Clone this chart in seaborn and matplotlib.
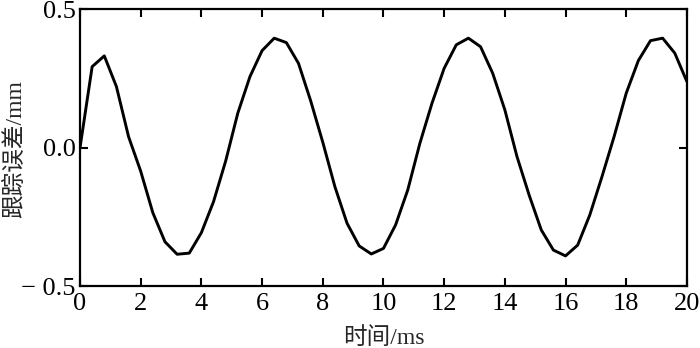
import numpy as np
import pandas as pd
import matplotlib.pyplot as plt
import seaborn as sns

time_ms = [0.0, 0.4, 0.8, 1.2, 1.6, 2.0, 2.4, 2.8, 3.2, 3.6,
           4.0, 4.4, 4.8, 5.2, 5.6, 6.0, 6.4, 6.8, 7.2, 7.6,
           8.0, 8.4, 8.8, 9.2, 9.6, 10.0, 10.4, 10.8, 11.2, 11.6,
           12.0, 12.4, 12.8, 13.2, 13.6, 14.0, 14.4, 14.8, 15.2, 15.6,
           16.0, 16.4, 16.8, 17.2, 17.6, 18.0, 18.4, 18.8, 19.2, 19.6, 20.0]
error_mm = [0.0, 0.293, 0.332, 0.221, 0.040, -0.085, -0.235, -0.340, -0.385, -0.381,
            -0.307, -0.195, -0.048, 0.125, 0.257, 0.351, 0.396, 0.380, 0.305, 0.170,
            0.020, -0.141, -0.273, -0.355, -0.384, -0.364, -0.279, -0.153, 0.016, 0.161,
            0.287, 0.372, 0.396, 0.365, 0.269, 0.137, -0.032, -0.171, -0.297, -0.370,
            -0.391, -0.352, -0.243, -0.105, 0.040, 0.197, 0.315, 0.387, 0.396, 0.342, 0.239]

x_ticks = [0, 2, 4, 6, 8, 10, 12, 14, 16, 18, 20]
y_ticks = [-0.5, 0.0, 0.5]
y_tick_labels = ['\u2212 0.5', '0.0', '0.5']

df = pd.DataFrame({'t': time_ms, 'e': error_mm})

sns.set_style('ticks')
plt.rcParams['font.family'] = ['Liberation Serif', 'Noto Sans CJK SC']
plt.rcParams['axes.unicode_minus'] = True

fig = plt.figure(figsize=(7, 3.48), dpi=100)
ax = fig.add_axes([0.1143, 0.178, 0.867, 0.795])

sns.lineplot(data=df, x='t', y='e', color='black', linewidth=2.1, ax=ax)

ax.set_xlim(0, 20)
ax.set_ylim(-0.5, 0.5)
ax.set_xticks(x_ticks)
ax.set_xticklabels([str(v) for v in x_ticks])
ax.set_yticks(y_ticks)
ax.set_yticklabels(y_tick_labels)
ax.tick_params(direction='in', top=True, right=True, length=6, width=1.5,
               labelsize=19, colors='black')
ax.tick_params(axis='x', pad=5)
ax.tick_params(axis='y', pad=3)
for s in ax.spines.values():
    s.set_linewidth(1.6)
    s.set_color('black')

cjk = ['Liberation Serif', 'Noto Sans CJK SC']
ax.set_xlabel('时间/ms', fontsize=17, family=cjk)
ax.set_ylabel('跟踪误差/mm', fontsize=17, family=cjk)
ax.xaxis.set_label_coords(0.5, -0.15)
ax.yaxis.set_label_coords(-0.089, 0.495)

fig.savefig('out.png', dpi=100)
